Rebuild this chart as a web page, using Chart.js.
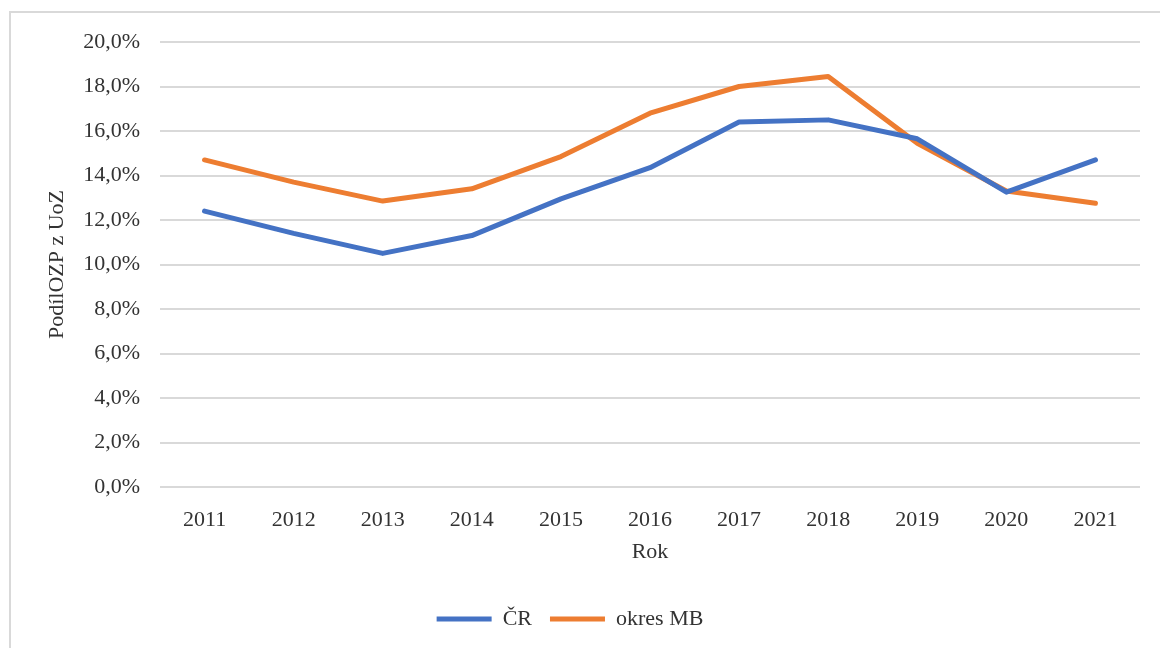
<!DOCTYPE html>
<html>
<head>
<meta charset="utf-8">
<script src="https://cdn.jsdelivr.net/npm/chart.js@4/dist/chart.umd.min.js"></script>
<style>
  html, body { margin: 0; padding: 0; background: #ffffff; }
  #wrap { position: absolute; left: 0; top: 0; width: 1160px; height: 648px; }
</style>
</head>
<body>
<div id="wrap"><canvas id="c" width="1160" height="648"></canvas></div>
<script>
const years = ['2011','2012','2013','2014','2015','2016','2017','2018','2019','2020','2021'];
const seriesCR = [12.4, 11.4, 10.5, 11.3, 12.95, 14.35, 16.4, 16.5, 15.65, 13.25, 14.7];
const seriesMB = [14.7, 13.7, 12.85, 13.4, 14.85, 16.8, 18.0, 18.45, 15.45, 13.3, 12.75];
const seriesNames = ['ČR', 'okres MB'];
const yAxisTitle = 'PodílOZP z UoZ';
const xAxisTitle = 'Rok';

const FONT = 'Liberation Serif';
const TXT = '#333333';
const FS = 22;

const framePlugin = {
  id: 'frame',
  beforeDraw(chart) {
    const ctx = chart.ctx;
    ctx.save();
    ctx.strokeStyle = '#d9d9d9';
    ctx.lineWidth = 2;
    ctx.beginPath();
    ctx.moveTo(10, 648);
    ctx.lineTo(10, 12);
    ctx.lineTo(1160, 12);
    ctx.stroke();
    ctx.restore();
  }
};

new Chart(document.getElementById('c'), {
  type: 'line',
  data: {
    labels: years,
    datasets: [
      { label: seriesNames[0], data: seriesCR, borderColor: '#4472C4', backgroundColor: '#4472C4',
        borderWidth: 5, pointRadius: 0, tension: 0, borderCapStyle: 'round', borderJoinStyle: 'round' },
      { label: seriesNames[1], data: seriesMB, borderColor: '#ED7D31', backgroundColor: '#ED7D31',
        borderWidth: 5, pointRadius: 0, tension: 0, borderCapStyle: 'round', borderJoinStyle: 'round' }
    ]
  },
  options: {
    responsive: false,
    animation: false,
    devicePixelRatio: 1,
    layout: { padding: { left: 0, right: 20, top: 42, bottom: 8 } },
    plugins: {
      legend: {
        position: 'bottom',
        labels: {
          usePointStyle: true,
          pointStyle: 'line',
          pointStyleWidth: 55,
          boxHeight: FS,
          padding: 18,
          color: TXT,
          font: { family: FONT, size: FS }
        }
      },
      tooltip: { enabled: false }
    },
    scales: {
      x: {
        offset: true,
        grid: { display: false, drawTicks: false },
        border: { display: false },
        ticks: { color: TXT, font: { family: FONT, size: FS }, padding: 20, maxRotation: 0 },
        title: { display: true, text: xAxisTitle, color: TXT, font: { family: FONT, size: FS }, padding: { top: 0, bottom: 25 } },
        afterFit(scale) { scale.height = 103; }
      },
      y: {
        min: 0, max: 20,
        grid: { color: '#d9d9d9', lineWidth: 2, drawTicks: false },
        border: { display: false },
        ticks: {
          stepSize: 2, padding: 20, color: TXT, font: { family: FONT, size: FS },
          callback: v => v.toFixed(1).replace('.', ',') + '%'
        },
        title: { display: true, text: yAxisTitle, color: TXT, font: { family: FONT, size: FS }, padding: { top: 44, bottom: 0 } },
        afterFit(scale) { scale.width = 160; }
      }
    }
  },
  plugins: [framePlugin]
});
</script>
</body>
</html>
